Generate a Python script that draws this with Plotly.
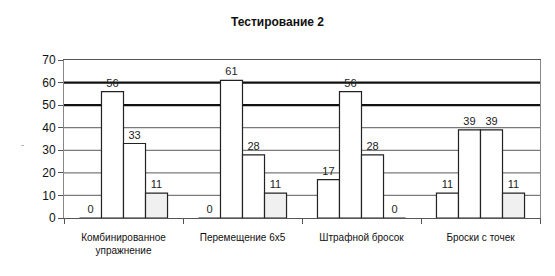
import plotly.graph_objects as go

categories = ["Комбинированное<br>упражнение", "Перемещение 6x5", "Штрафной бросок", "Броски с точек"]
s1 = [0, 0, 17, 11]
s2 = [56, 61, 56, 39]
s3 = [33, 28, 28, 39]
s4 = [11, 11, 0, 11]
series = [s1, s2, s3, s4]
fills = ["white", "white", "white", "#f0f0f0"]
title = "Тестирование 2"
grid_values = [10, 20, 30, 40, 50, 60]
thick_lines = [50, 60]

fig = go.Figure()
for vals, fc in zip(series, fills):
    fig.add_trace(go.Bar(
        x=categories, y=vals, marker=dict(color=fc, line=dict(color="#222222", width=1.2)),
        text=[str(v) for v in vals], textposition="outside",
        textfont=dict(family="Liberation Sans, Arial", size=11, color="#222222"),
        cliponaxis=False, showlegend=False))

for v in grid_values:
    thick = v in thick_lines
    fig.add_shape(type="line", xref="paper", x0=0, x1=1, yref="y", y0=v, y1=v,
                  line=dict(color="#111111" if thick else "#7a7a7a", width=2.2 if thick else 1.3),
                  layer="below")

fig.update_layout(
    width=555, height=276,
    margin=dict(l=64, r=15, t=60, b=58),
    paper_bgcolor="white", plot_bgcolor="white",
    barmode="group", bargap=0.26, bargroupgap=0,
    title=dict(text="<b>" + title + "</b>", x=0.5, xanchor="center", y=0.92, yanchor="middle",
               font=dict(family="Liberation Sans, Arial", size=12, color="#111111")),
    font=dict(family="Liberation Sans, Arial", color="#111111"),
)
fig.update_yaxes(range=[0, 70], dtick=10, showgrid=False,
                 showline=True, linecolor="#888888", linewidth=1, mirror=True,
                 ticks="outside", ticklen=5, tickcolor="#555555",
                 tickfont=dict(size=12, color="#111111"), zeroline=False)
fig.update_xaxes(showline=True, linecolor="#555555", linewidth=1, mirror=True,
                 ticks="outside", tickson="boundaries", ticklen=5, tickcolor="#555555",
                 ticklabelstandoff=10,
                 tickfont=dict(size=10, color="#111111"), showgrid=False)
fig.add_annotation(text="-", xref="paper", yref="paper", x=-0.095, y=0.46, showarrow=False,
                   font=dict(size=9, color="#888888"))
fig.write_html("out.html")
